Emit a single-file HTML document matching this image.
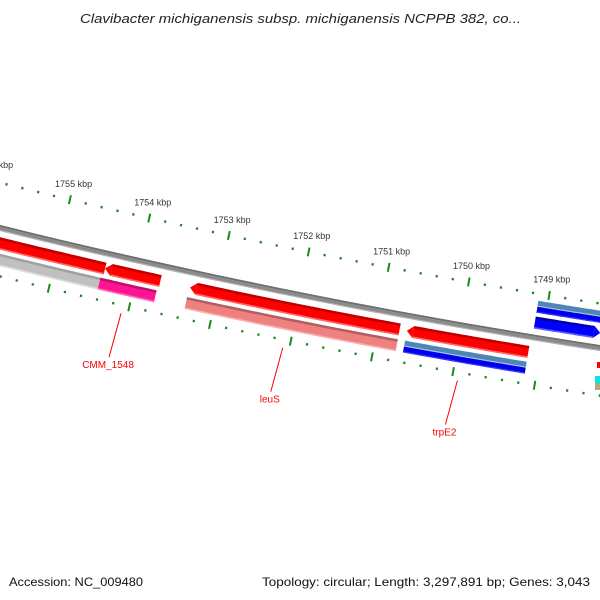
<!DOCTYPE html>
<html><head><meta charset="utf-8"><style>
html,body{margin:0;padding:0;background:#fff}
svg{display:block}
text{font-family:"Liberation Sans","DejaVu Sans",sans-serif}
</style></head><body>
<svg id="map" width="600" height="600" viewBox="0 0 600 600" xmlns="http://www.w3.org/2000/svg">
<text x="80" y="23" font-size="13" font-style="italic" fill="#222" textLength="441" lengthAdjust="spacingAndGlyphs">Clavibacter michiganensis subsp. michiganensis NCPPB 382, co...</text>
<g id="ticks"></g>
<g id="backbone"></g>
<g id="genes"></g>
<g id="labels"></g>
<rect x="597" y="362" width="3" height="6" fill="#ff0000"/>
<rect x="595" y="376" width="5" height="7" fill="#00e5ee"/>
<rect x="595" y="383" width="5" height="7" fill="#b8a878"/>
<text x="9" y="586" font-size="12" fill="#111" textLength="134" lengthAdjust="spacingAndGlyphs">Accession: NC_009480</text>
<text x="262" y="586" font-size="12" fill="#111" textLength="328" lengthAdjust="spacingAndGlyphs">Topology: circular; Length: 3,297,891 bp; Genes: 3,043</text>
</svg>
<script>
// data
const majorTicks = [1756, 1755, 1754, 1753, 1752, 1751, 1750, 1749, 1748];
const tickLabels = ["1756 kbp","1755 kbp","1754 kbp","1753 kbp","1752 kbp","1751 kbp","1750 kbp","1749 kbp","1748 kbp"];
const geneStarts = [1753.70, 1750.73, 1749.14, 1754.39, 1748.31];
const geneEnds   = [1754.39, 1753.33, 1750.64, 1756.6, 1749.12];
const geneRings  = [-15, -15, -15, -15, 15];
const geneDirs   = [-1, -1, -1, 0, 1];
const geneColors = ["#ff0000","#ff0000","#ff0000","#ff0000","#0000ff"];
const catStarts  = [1754.42, 1753.72, 1750.73, 1749.14, 1747.9];
const catEnds    = [1756.6, 1754.42, 1753.34, 1750.64, 1749.12];
const catRings   = [-31, -31, -31, -31, 31];
const catColors  = ["#c0c0c0","#ff1493","#f08080","blue2","blue2"];
const labelNames = ["CMM_1548","leuS","trpE2"];
const labelPos   = [1754.08, 1752.08, 1749.93];

const NS="http://www.w3.org/2000/svg";
const CX=1633, CY=-6373, R0=6800, K=0.01206, A0=1.7681, KB0=1752;
function ang(kb){return A0+(kb-KB0)*K;}
function pt(kb,d){const a=ang(kb),r=R0-d;return [CX+r*Math.cos(a),CY+r*Math.sin(a)];}
function mk(tag,attrs,parent){const e=document.createElementNS(NS,tag);for(const k in attrs)e.setAttribute(k,attrs[k]);parent.appendChild(e);return e;}
function band(k1,k2,d1,d2){
  const lo=Math.min(k1,k2),hi=Math.max(k1,k2);const n=24;let p=[];
  for(let i=0;i<=n;i++){const k=hi-(hi-lo)*i/n;p.push(pt(k,d1));}
  for(let i=n;i>=0;i--){const k=hi-(hi-lo)*i/n;p.push(pt(k,d2));}
  return "M"+p.map(q=>q[0].toFixed(1)+","+q[1].toFixed(1)).join("L")+"Z";}

// ticks
const tg=document.getElementById('ticks');
for(let t=17480;t<=17566;t+=2){
  const kb=t/10, major=(t%10===0);
  [44,-47].forEach(d=>{
    const l=major?4.5:1.2;
    const a=pt(kb,d+l),b=pt(kb,d-l);
    const ln=mk('line',{x1:a[0],y1:a[1],x2:b[0],y2:b[1],stroke:'#1a8a1a','stroke-width':major?2:2.2},tg);
    
    
  });
}
majorTicks.forEach((kb,i)=>{
  const p=pt(kb,60);
  const t=mk('text',{x:p[0],y:p[1]+3,'text-anchor':'middle','font-size':'9',fill:'#333'},tg);
  t.textContent=tickLabels[i];
  
  
});

// backbone
const bg=document.getElementById('backbone');
[[3,1,'#6e6e6e'],[1,-2,'#8a8a8a'],[-2,-3,'#b0b0b0']].forEach(s=>{
  const e=mk('path',{d:band(1747.5,1757,s[0],s[1]),fill:s[2]},bg);
  
  
});

// genes
const gg=document.getElementById('genes');
function drawFeature(s,e,ring,dir,color,name){
  const top=ring+6, bot=ring-6;
  const g=mk('g',{},gg);
  
  
  let cols;
  if(color==='blue2') cols=['#4f86b8','#6fa0cc','#0000ee','#3a3aff'];
  else if(color==='#ff0000') cols=['#c00000','#ff0000','#ff0000','#ff6a6a'];
  else if(color==='#0000ff') cols=['#0000b0','#0000ff','#0000ff','#6060ff'];
  else if(color==='#ff1493') cols=['#c0106e','#ff1493','#ff1493','#ff6ab8'];
  else if(color==='#f08080') cols=['#b06060','#f08080','#f08080','#f8b0b0'];
  else cols=['#a0a0a0','#c0c0c0','#c0c0c0','#dcdcdc'];
  let lo=Math.min(s,e),hi=Math.max(s,e);
  const head=0.08;
  let bl=lo,bh=hi;
  if(dir===-1) bh=hi-head; if(dir===1) bl=lo+head;
  if(color==='blue2'){
    mk('path',{d:band(bl,bh,top,ring+1),fill:cols[0]},g);
    mk('path',{d:band(bl,bh,ring+1,ring),fill:'#a8c4de'},g);
    mk('path',{d:band(bl,bh,ring,bot),fill:cols[2]},g);
    mk('path',{d:band(bl,bh,bot+1.2,bot),fill:cols[3]},g);
  } else {
    mk('path',{d:band(bl,bh,top,bot),fill:cols[1]},g);
    mk('path',{d:band(bl,bh,top,top-2.5),fill:cols[0]},g);
    mk('path',{d:band(bl,bh,bot+1.5,bot),fill:cols[3]},g);
  }
  if(dir!==0){
    const tip=dir===-1?hi:lo, base=dir===-1?bh:bl;
    const a=pt(base,top),b=pt(tip,ring),c=pt(base,bot);
    mk('path',{d:`M${a}L${b}L${c}Z`,fill:cols[1]},g);
  }
}
for(let i=0;i<geneStarts.length;i++) drawFeature(geneStarts[i],geneEnds[i],geneRings[i],geneDirs[i],geneColors[i],'gene-feature');
for(let i=0;i<catStarts.length;i++) drawFeature(catStarts[i],catEnds[i],catRings[i],0,catColors[i],'category-feature');

// labels
const lg=document.getElementById('labels');
labelNames.forEach((n,i)=>{
  const a=pt(labelPos[i],-55);
  const bx=a[0]-12, by=a[1]+44;
  const ln=mk('line',{x1:a[0],y1:a[1],x2:bx,y2:by,stroke:'#ff0000','stroke-width':1},lg);
  
  
  const t=mk('text',{x:bx-1,y:by+11,'text-anchor':'middle','font-size':'10',fill:'#ff0000'},lg);
  t.textContent=n;
  
  
});
</script>
</body></html>
